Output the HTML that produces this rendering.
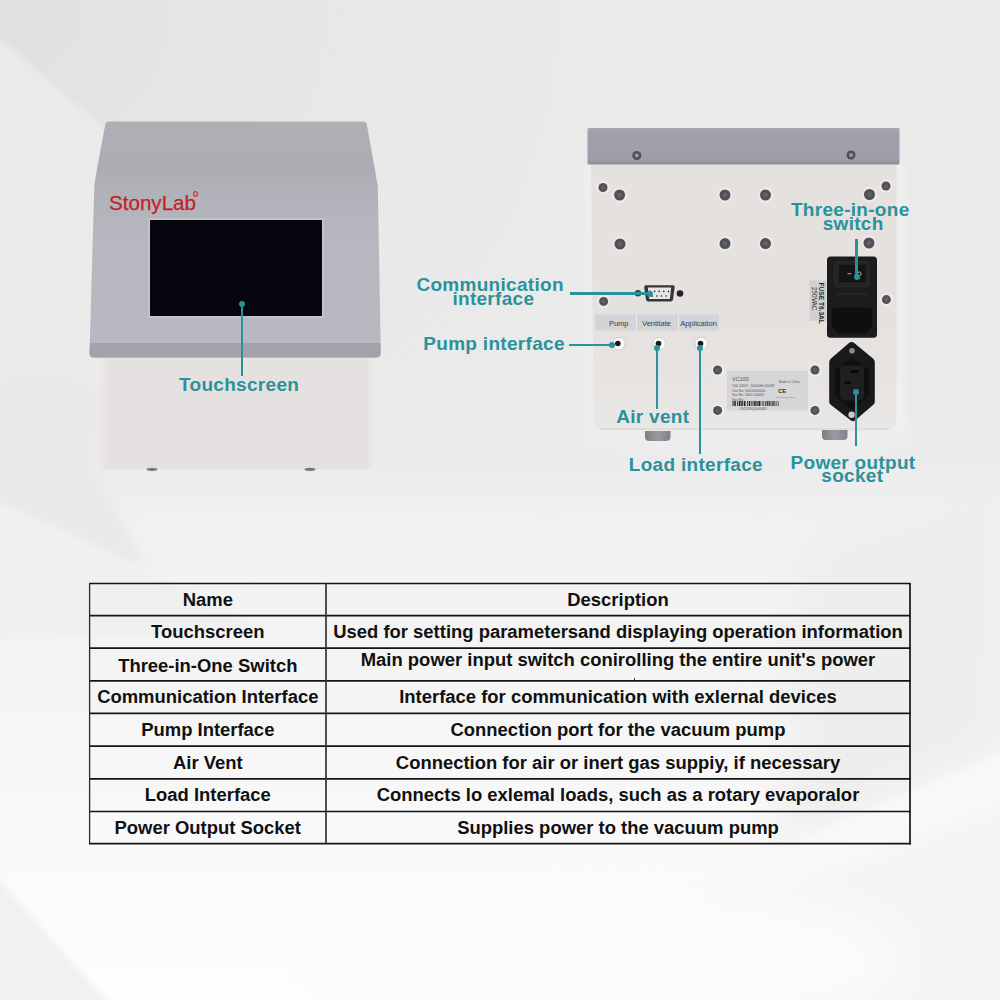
<!DOCTYPE html>
<html><head><meta charset="utf-8">
<style>
*{margin:0;padding:0;box-sizing:border-box}
html,body{width:1000px;height:1000px;overflow:hidden}
body{position:relative;font-family:"Liberation Sans",sans-serif;background:#ededed}
.abs{position:absolute}
#bg{position:absolute;left:0;top:0;width:1000px;height:1000px;
background:
 linear-gradient(135deg, rgba(0,0,0,0) 0%, rgba(0,0,0,0) 100%),
 #ececec}
.lbl{position:absolute;color:#2a929a;font-weight:700;font-size:19px;white-space:nowrap;line-height:14px;letter-spacing:0.3px}
.ln{position:absolute;background:#2a929a}
.dot{position:absolute;border-radius:50%;background:#2a929a}
.screw{position:absolute;border-radius:50%;background:#5d5e63;box-shadow:0 0 0 1px rgba(90,90,95,0.35)}
.tc{position:absolute;text-align:center;font-weight:700;font-size:18.45px;line-height:20px;height:20px;color:#111;white-space:nowrap}
</style></head><body>
<svg id="bgs" class="abs" style="left:0;top:0" width="1000" height="1000">
  <defs>
    <linearGradient id="bgv" x1="0" y1="0" x2="0" y2="1">
      <stop offset="0" stop-color="#eaeaea"/>
      <stop offset="0.46" stop-color="#ebebeb"/>
      <stop offset="0.53" stop-color="#f2f2f2"/>
      <stop offset="0.62" stop-color="#f3f3f3"/>
      <stop offset="0.7" stop-color="#f5f5f5"/>
      <stop offset="0.8" stop-color="#f8f8f8"/>
      <stop offset="0.94" stop-color="#fcfcfc"/>
      <stop offset="1" stop-color="#fdfdfd"/>
    </linearGradient>
    <filter id="blur8" x="-30%" y="-30%" width="160%" height="160%"><feGaussianBlur stdDeviation="8"/></filter>
    <filter id="blur20" x="-30%" y="-30%" width="160%" height="160%"><feGaussianBlur stdDeviation="20"/></filter>
    <filter id="blur3" x="-30%" y="-30%" width="160%" height="160%"><feGaussianBlur stdDeviation="2.5"/></filter>
  </defs>
  <rect x="0" y="0" width="1000" height="1000" fill="url(#bgv)"/>
  <!-- dark wedge top-left -->
  <defs><radialGradient id="wedge" cx="0" cy="0" r="760" gradientUnits="userSpaceOnUse">
    <stop offset="0" stop-color="#e0e0e0"/><stop offset="0.2" stop-color="#e4e4e4"/><stop offset="0.42" stop-color="#e7e7e7"/><stop offset="1" stop-color="#eaeaea" stop-opacity="0"/></radialGradient></defs>
  <path d="M-10 -10 L-10 30 L600 560 L1000 560 L1000 -10 Z" fill="url(#wedge)" filter="url(#blur3)"/>
  <!-- left darker band -->
  <path d="M-10 380 L92 380 L92 470 L150 572 L-10 498 Z" fill="#e8e8e8" filter="url(#blur8)"/>
  <path d="M-10 500 L150 574 L260 630 L-10 640 Z" fill="#f0f0f0" filter="url(#blur3)"/>
  <!-- right darker band -->
  <path d="M800 540 L1010 470 L1010 752 L780 850 Z" fill="#eeeeee" filter="url(#blur20)"/>
  <!-- lighter streak lower-left -->
  
  <!-- lower right light streak -->
  <path d="M380 1010 L780 850 L1010 752 L1010 1010 Z" fill="#f5f5f5" filter="url(#blur3)"/>
  <path d="M560 930 L780 850 L1010 752 L1010 800 L780 890 Z" fill="#f9f9f9" filter="url(#blur8)"/>
  <ellipse cx="600" cy="960" rx="300" ry="80" fill="#fbfbfb" filter="url(#blur20)"/>
  <path d="M-10 870 L115 1010 L-10 1010 Z" fill="#f1f1f1" filter="url(#blur3)"/>
</svg>


<!-- Front device -->
<svg class="abs" style="left:0;top:0" width="1000" height="500">
  <defs>
    <linearGradient id="fg" x1="0" y1="0" x2="0" y2="1">
      <stop offset="0" stop-color="#afafb5"/>
      <stop offset="0.2" stop-color="#acacb3"/>
      <stop offset="0.33" stop-color="#b2b2ba"/>
      <stop offset="0.5" stop-color="#b7b7bf"/>
      <stop offset="1" stop-color="#b8b8c0"/>
    </linearGradient>
    <linearGradient id="wb" x1="0" y1="0" x2="1" y2="0">
      <stop offset="0" stop-color="#efeeec"/>
      <stop offset="0.04" stop-color="#e5e1e0"/>
      <stop offset="0.96" stop-color="#e5e1e0"/>
      <stop offset="1" stop-color="#eeedeb"/>
    </linearGradient>
  </defs>
  <!-- white base -->
  <path d="M96 352 L377 352 L376 462 Q376 469 369 469 L105 469 Q98 469 98 462 Z" fill="url(#wb)"/>
  <ellipse cx="152" cy="469.3" rx="5.5" ry="1.6" fill="#77777b"/>
  <ellipse cx="310" cy="469.3" rx="5.5" ry="1.6" fill="#77777b"/>
  <!-- grey top -->
  <path d="M108.5 121.5 L363 121.5 Q366 121.5 366.8 124.5 C369 137, 374 163, 377.8 186 L380.8 353 Q380.8 357.5 376.3 357.5 L94 357.5 Q89.5 357.5 89.5 353 L94.3 186 C98 163, 103 137, 105.3 124.5 Q106 121.5 108.5 121.5 Z" fill="url(#fg)"/>
  <path d="M90 343 L380.5 343 L380.5 353 Q380.5 357.5 376 357.5 L94 357.5 Q89.5 357.5 89.5 353 Z" fill="#a2a2aa"/>
  <!-- screen -->
  <rect x="148.5" y="218.5" width="175" height="99" fill="#c6c6cc"/>
  <rect x="150" y="220" width="172" height="96" fill="#06070e"/>
</svg>
<div class="abs" style="left:109px;top:192px;color:#c41e24;font-size:20.6px;line-height:22px;-webkit-text-stroke:0.25px #c41e24">StonyLab</div>
<div class="abs" style="left:192.8px;top:191.3px;width:5.4px;height:5.4px;border-radius:50%;border:1.6px solid #c41e24;background:#d98a8c"></div>

<!-- Back device -->
<svg class="abs" style="left:0;top:0" width="1000" height="500">
  <defs>
    <linearGradient id="bar" x1="0" y1="0" x2="0" y2="1">
      <stop offset="0" stop-color="#a8a8b0"/>
      <stop offset="0.15" stop-color="#a1a1ab"/>
      <stop offset="0.88" stop-color="#9e9ea9"/>
      <stop offset="1" stop-color="#8b8b95"/>
    </linearGradient>
    <linearGradient id="ft" x1="0" y1="0" x2="1" y2="0">
      <stop offset="0" stop-color="#7d7e83"/>
      <stop offset="0.5" stop-color="#9a9ba0"/>
      <stop offset="1" stop-color="#818287"/>
    </linearGradient>
  </defs>
  <defs><linearGradient id="rs" x1="0" y1="0" x2="1" y2="0"><stop offset="0" stop-color="#f4f4f4"/><stop offset="1" stop-color="#f4f4f4" stop-opacity="0"/></linearGradient></defs><rect x="896" y="165" width="10" height="265" fill="url(#rs)"/>
  <rect x="584" y="164" width="9" height="262" fill="#eeeeee" filter="url(#blur3)"/>
  <rect x="590" y="429" width="320" height="18" fill="#efefef" filter="url(#blur8)"/>
  <rect x="893" y="165" width="12" height="270" fill="#efefef" filter="url(#blur3)"/>
  <defs><linearGradient id="pnl" x1="0" y1="0" x2="0" y2="1"><stop offset="0" stop-color="#e4e1df"/><stop offset="0.6" stop-color="#e4e1df"/><stop offset="1" stop-color="#e9e7e5"/></linearGradient></defs>
  <path d="M591 160 L896.5 160 L896.5 420 Q896.5 430 886.5 430 L603 430 Q594.5 430 594 421 Z" fill="url(#pnl)"/>
  <rect x="600" y="428.5" width="290" height="1.2" fill="#d9d7d6"/>
  <rect x="587.5" y="128" width="312" height="36.5" rx="1.5" fill="url(#bar)"/>
  <path d="M645 431 L670.5 431 L670.5 437 Q670.5 441 666 441 L649 441 Q645 441 645 437 Z" fill="url(#ft)"/>
  <path d="M822 430 L847.5 430 L847.5 436 Q847.5 440 843 440 L826 440 Q822 440 822 436 Z" fill="url(#ft)"/>
  <circle cx="636.8" cy="155.5" r="4.5" fill="#505056"/><circle cx="636.8" cy="155.5" r="2" fill="#9a9aa0"/>
  <circle cx="851" cy="155" r="4.5" fill="#505056"/><circle cx="851" cy="155" r="2" fill="#9a9aa0"/>
  <circle cx="619.6" cy="195" r="7.7" fill="#f4f3f1" opacity="0.55"/><circle cx="619.6" cy="195" r="5.5" fill="#505056"/><circle cx="619.6" cy="195" r="2.48" fill="#616166"/><circle cx="725" cy="195" r="7.7" fill="#f4f3f1" opacity="0.55"/><circle cx="725" cy="195" r="5.5" fill="#505056"/><circle cx="725" cy="195" r="2.48" fill="#616166"/><circle cx="765.5" cy="195" r="7.7" fill="#f4f3f1" opacity="0.55"/><circle cx="765.5" cy="195" r="5.5" fill="#505056"/><circle cx="765.5" cy="195" r="2.48" fill="#616166"/><circle cx="869.5" cy="194.5" r="7.7" fill="#f4f3f1" opacity="0.55"/><circle cx="869.5" cy="194.5" r="5.5" fill="#505056"/><circle cx="869.5" cy="194.5" r="2.48" fill="#616166"/><circle cx="620" cy="244" r="7.7" fill="#f4f3f1" opacity="0.55"/><circle cx="620" cy="244" r="5.5" fill="#505056"/><circle cx="620" cy="244" r="2.48" fill="#616166"/><circle cx="725" cy="243.6" r="7.7" fill="#f4f3f1" opacity="0.55"/><circle cx="725" cy="243.6" r="5.5" fill="#505056"/><circle cx="725" cy="243.6" r="2.48" fill="#616166"/><circle cx="765.5" cy="243.6" r="7.7" fill="#f4f3f1" opacity="0.55"/><circle cx="765.5" cy="243.6" r="5.5" fill="#505056"/><circle cx="765.5" cy="243.6" r="2.48" fill="#616166"/><circle cx="869" cy="243" r="7.7" fill="#f4f3f1" opacity="0.55"/><circle cx="869" cy="243" r="5.5" fill="#505056"/><circle cx="869" cy="243" r="2.48" fill="#616166"/><circle cx="603" cy="187.5" r="6.7" fill="#f4f3f1" opacity="0.55"/><circle cx="603" cy="187.5" r="4.5" fill="#505056"/><circle cx="603" cy="187.5" r="2.02" fill="#616166"/><circle cx="886" cy="186" r="6.7" fill="#f4f3f1" opacity="0.55"/><circle cx="886" cy="186" r="4.5" fill="#505056"/><circle cx="886" cy="186" r="2.02" fill="#616166"/><circle cx="603.6" cy="301.4" r="6.7" fill="#f4f3f1" opacity="0.55"/><circle cx="603.6" cy="301.4" r="4.5" fill="#505056"/><circle cx="603.6" cy="301.4" r="2.02" fill="#616166"/><circle cx="886.4" cy="299.6" r="6.7" fill="#f4f3f1" opacity="0.55"/><circle cx="886.4" cy="299.6" r="4.5" fill="#505056"/><circle cx="886.4" cy="299.6" r="2.02" fill="#616166"/><circle cx="717.6" cy="370" r="6.7" fill="#f4f3f1" opacity="0.55"/><circle cx="717.6" cy="370" r="4.5" fill="#505056"/><circle cx="717.6" cy="370" r="2.02" fill="#616166"/><circle cx="717.6" cy="410.4" r="6.7" fill="#f4f3f1" opacity="0.55"/><circle cx="717.6" cy="410.4" r="4.5" fill="#505056"/><circle cx="717.6" cy="410.4" r="2.02" fill="#616166"/><circle cx="815" cy="370" r="6.7" fill="#f4f3f1" opacity="0.55"/><circle cx="815" cy="370" r="4.5" fill="#505056"/><circle cx="815" cy="370" r="2.02" fill="#616166"/><circle cx="815" cy="410.4" r="6.7" fill="#f4f3f1" opacity="0.55"/><circle cx="815" cy="410.4" r="4.5" fill="#505056"/><circle cx="815" cy="410.4" r="2.02" fill="#616166"/>
  <!-- label strip -->
  <rect x="595.3" y="314.3" width="123.7" height="16.1" fill="#d3d4d8"/>
  <rect x="636" y="314.3" width="1" height="16.1" fill="#e9e9ec"/>
  <rect x="678" y="314.3" width="1" height="16.1" fill="#e9e9ec"/>
  <g font-family="Liberation Sans" font-size="7.5" fill="#3a3a3e" text-anchor="middle">
    <text x="618.7" y="325.5">Pump</text>
    <text x="656.5" y="325.5">Ventilate</text>
    <text x="698.5" y="325.5">Application</text>
  </g>
  <!-- DB9 -->
  <circle cx="638" cy="293.3" r="3.3" fill="#444"/>
  <circle cx="680" cy="293.5" r="3.3" fill="#222"/>
  <path d="M646 285.2 L673 285.2 Q675 285.2 674.7 287.3 L673 299.6 Q672.7 301.5 670.7 301.5 L648.3 301.5 Q646.3 301.5 646 299.6 L644.2 287.3 Q644 285.2 646 285.2 Z" fill="#36363a"/>
  <path d="M647.8 287.6 L671.2 287.6 L669.8 298.9 L649.2 298.9 Z" fill="#e6e6e6"/>
  <g fill="#222">
    <circle cx="650" cy="291.4" r="0.8"/><circle cx="654.6" cy="291.4" r="0.8"/><circle cx="659.2" cy="291.4" r="0.8"/><circle cx="663.8" cy="291.4" r="0.8"/><circle cx="668.4" cy="291.4" r="0.8"/>
    <circle cx="652.3" cy="296" r="0.8"/><circle cx="656.9" cy="296" r="0.8"/><circle cx="661.5" cy="296" r="0.8"/><circle cx="666.1" cy="296" r="0.8"/>
  </g>
  <!-- ports -->
  <g>
    <circle cx="618.7" cy="344.5" r="8.5" fill="#e4e3e1" opacity="0.7"/>
    <circle cx="618.7" cy="343.7" r="6.3" fill="#fbfbfb" stroke="#d0d0d0" stroke-width="1"/>
    <circle cx="617.8" cy="343.5" r="2.8" fill="#1a1a1a"/>
    <circle cx="659.3" cy="344.5" r="8.5" fill="#e4e3e1" opacity="0.7"/>
    <circle cx="659.3" cy="343.7" r="6.3" fill="#fbfbfb" stroke="#d0d0d0" stroke-width="1"/>
    <circle cx="658.5" cy="343.5" r="2.8" fill="#1a1a1a"/>
    <circle cx="701.3" cy="344.5" r="8.5" fill="#e4e3e1" opacity="0.7"/>
    <circle cx="701.3" cy="343.7" r="6.3" fill="#fbfbfb" stroke="#d0d0d0" stroke-width="1"/>
    <circle cx="700.5" cy="343.5" r="2.8" fill="#1a1a1a"/>
  </g>
  <!-- label plate -->
  <rect x="727" y="370.9" width="81" height="39.6" fill="#d6d6d9"/>
  <g font-family="Liberation Sans" fill="#55555a">
    <text x="732" y="381" font-size="5.5">VC100</text>
    <text x="732" y="386.5" font-size="3.6">100-240V~,50/60Hz,500W</text>
    <text x="732" y="391.5" font-size="3.6">Cat No: 6001000000</text>
    <text x="732" y="396.2" font-size="3.6">Var No: 0001 00000</text>
    <text x="732" y="400.5" font-size="3.6">Ser No:</text>
    <text x="740" y="409.5" font-size="3.2">XV25TKQ0000082</text>
    <text x="779" y="383" font-size="3.2">Made in China</text>
    <text x="778" y="392.5" font-size="6" font-weight="700" fill="#333">CE</text>
    <text x="776" y="397.5" font-size="2">xxxxxxxxxxxxxxxxxxx</text>
  </g>
  <rect x="732.0" y="401" width="0.5" height="5" fill="#222"/><rect x="733.5" y="401" width="1.2" height="5" fill="#222"/><rect x="735.2" y="401" width="0.8" height="5" fill="#222"/><rect x="737.0" y="401" width="0.8" height="5" fill="#222"/><rect x="738.8" y="401" width="1.2" height="5" fill="#222"/><rect x="740.5" y="401" width="1.2" height="5" fill="#222"/><rect x="742.2" y="401" width="0.8" height="5" fill="#222"/><rect x="743.8" y="401" width="1.2" height="5" fill="#222"/><rect x="745.5" y="401" width="0.5" height="5" fill="#222"/><rect x="747.0" y="401" width="0.8" height="5" fill="#222"/><rect x="748.8" y="401" width="1.2" height="5" fill="#222"/><rect x="750.8" y="401" width="0.8" height="5" fill="#222"/><rect x="752.6" y="401" width="0.5" height="5" fill="#222"/><rect x="753.6" y="401" width="1.2" height="5" fill="#222"/><rect x="755.3" y="401" width="1.2" height="5" fill="#222"/><rect x="757.3" y="401" width="1.2" height="5" fill="#222"/><rect x="759.0" y="401" width="1.2" height="5" fill="#222"/><rect x="760.7" y="401" width="0.5" height="5" fill="#222"/><rect x="762.2" y="401" width="0.5" height="5" fill="#222"/><rect x="763.5" y="401" width="0.5" height="5" fill="#222"/><rect x="764.8" y="401" width="0.8" height="5" fill="#222"/><rect x="766.6" y="401" width="1.2" height="5" fill="#222"/><rect x="768.6" y="401" width="1.2" height="5" fill="#222"/><rect x="770.6" y="401" width="0.8" height="5" fill="#222"/><rect x="772.4" y="401" width="1.2" height="5" fill="#222"/><rect x="774.4" y="401" width="0.5" height="5" fill="#222"/><rect x="775.7" y="401" width="0.5" height="5" fill="#222"/><rect x="776.7" y="401" width="0.5" height="5" fill="#222"/><rect x="778.0" y="401" width="0.5" height="5" fill="#222"/>
  <!-- fuse label -->
  <rect x="809.5" y="280.4" width="17.1" height="40.3" fill="#d0d0d2"/>
  <text transform="translate(818.5,282.5) rotate(90)" font-family="Liberation Sans" font-size="6.6" font-weight="700" fill="#2a2a2a">FUSE T6.3AL</text>
  <text transform="translate(812,287) rotate(90)" font-family="Liberation Sans" font-size="6.4" fill="#333">250VAC</text>
  <!-- switch module -->
  <rect x="827" y="256.6" width="50" height="81.2" rx="3.5" fill="#1c1c1f"/>
  <rect x="834.7" y="261.9" width="34.2" height="24.7" rx="1" fill="#232326" stroke="#2e2e31" stroke-width="1"/>
  <rect x="839" y="265" width="26.5" height="17.3" fill="#141416"/>
  <rect x="847.5" y="273.2" width="4" height="1" fill="#aaa"/>
  <circle cx="859.4" cy="273.7" r="1.8" fill="none" stroke="#bbb" stroke-width="0.9"/>
  <rect x="837" y="293" width="30" height="2" fill="#262629"/>
  <path d="M834.5 307.5 L869.5 307.5 Q872.2 307.5 872.2 310 L872.2 327 L866 333.6 L838 333.6 L831.8 327 L831.8 310 Q831.8 307.5 834.5 307.5 Z" fill="#0f0f11"/>
  <!-- power socket -->
  <path d="M849 343 Q851.6 341 854.2 343 L873 358.5 Q874.8 360 874.8 362.5 L874.8 401.5 Q874.8 403.5 873 405 L855 420.5 Q853 422 851 420.5 L831 405 Q829.2 403.5 829.2 401.5 L829.2 362.5 Q829.2 360 831 358.5 Z" fill="#19191b"/>
  <path d="M851.8 358 L869 370 L869 396 L852 410 L835 396 L835 370 Z" fill="#0f0f11"/>
  <path d="M843 365.4 L861 365.4 Q864 365.4 864 368.4 L864 395 Q864 400.5 858.5 400.5 L846 400.5 Q840.2 400.5 840.2 395 L840.2 368.4 Q840.2 365.4 843 365.4 Z" fill="#202023"/>
  <rect x="850.5" y="370" width="8" height="3" fill="#0a0a0b"/>
  <rect x="844.5" y="381" width="6" height="3" fill="#0a0a0b"/>
  <circle cx="852" cy="350.7" r="2.8" fill="#8b8b8f"/>
  <circle cx="851.6" cy="414.8" r="3.2" fill="#c9c9cb"/>
</svg>

<div class="abs" style="left:633.8px;top:677.5px;width:1.6px;height:2.5px;background:#333"></div>
<!-- Labels -->
<div class="dot" style="left:239.00px;top:300.60px;width:6px;height:6px"></div>
<div class="ln" style="left:240.90px;top:303.6px;width:2.2px;height:72.40px"></div>
<div class="lbl" style="left:179px;top:377.5px">Touchscreen</div>
<div class="lbl" style="left:416.4px;top:278px">Communication</div>
<div class="lbl" style="left:452.4px;top:292px">interface</div>
<div class="ln" style="left:569.5px;top:292.40px;width:80.50px;height:2.2px"></div>
<div class="dot" style="left:646.80px;top:290.50px;width:6px;height:6px"></div>
<div class="lbl" style="left:423.3px;top:337.2px">Pump interface</div>
<div class="ln" style="left:569.4px;top:343.50px;width:42.30px;height:2.2px"></div>
<div class="dot" style="left:608.70px;top:341.60px;width:6px;height:6px"></div>
<div class="dot" style="left:654.20px;top:345.00px;width:6px;height:6px"></div>
<div class="ln" style="left:656.10px;top:348px;width:2.2px;height:60.50px"></div>
<div class="lbl" style="left:616.2px;top:410px">Air vent</div>
<div class="dot" style="left:697.00px;top:345.00px;width:6px;height:6px"></div>
<div class="ln" style="left:698.90px;top:348px;width:2.2px;height:106.00px"></div>
<div class="lbl" style="left:628.8px;top:457.5px">Load interface</div>
<div class="lbl" style="left:790.9px;top:202.5px">Three-in-one</div>
<div class="lbl" style="left:822.7px;top:216.7px">switch</div>
<div class="ln" style="left:855.40px;top:239px;width:2.2px;height:37.60px"></div>
<div class="dot" style="left:853.50px;top:273.60px;width:6px;height:6px"></div>
<div class="dot" style="left:852.80px;top:388.50px;width:6px;height:6px"></div>
<div class="ln" style="left:854.70px;top:391.5px;width:2.2px;height:54.80px"></div>
<div class="lbl" style="left:790.5px;top:455.5px">Power output</div>
<div class="lbl" style="left:821.3px;top:469px">socket</div>

<!-- Table -->
<svg class="abs" style="left:0;top:0" width="1000" height="1000">
<line x1="89.0" y1="583.5" x2="910.9" y2="583.5" stroke="#141414" stroke-width="1.3"/>
<line x1="89.0" y1="615.6" x2="910.9" y2="615.6" stroke="#141414" stroke-width="1.7"/>
<line x1="89.0" y1="648.2" x2="910.9" y2="648.2" stroke="#141414" stroke-width="1.7"/>
<line x1="89.0" y1="680.9" x2="910.9" y2="680.9" stroke="#141414" stroke-width="1.7"/>
<line x1="89.0" y1="713.4" x2="910.9" y2="713.4" stroke="#141414" stroke-width="1.7"/>
<line x1="89.0" y1="746.2" x2="910.9" y2="746.2" stroke="#141414" stroke-width="1.7"/>
<line x1="89.0" y1="778.9" x2="910.9" y2="778.9" stroke="#141414" stroke-width="1.7"/>
<line x1="89.0" y1="811.5" x2="910.9" y2="811.5" stroke="#141414" stroke-width="1.7"/>
<line x1="89.0" y1="843.6" x2="910.9" y2="843.6" stroke="#141414" stroke-width="1.7"/>
<line x1="89.6" y1="583.5" x2="89.6" y2="843.6" stroke="#2a2a2a" stroke-width="1.3"/>
<line x1="326.0" y1="583.5" x2="326.0" y2="843.6" stroke="#333" stroke-width="1.7"/>
<line x1="910.0" y1="583.5" x2="910.0" y2="844.4" stroke="#141414" stroke-width="1.7"/>
</svg>
<div class="tc" style="left:89.6px;width:236.4px;top:589.55px">Name</div>
<div class="tc" style="left:326.0px;width:584.0px;top:589.55px">Description</div>
<div class="tc" style="left:89.6px;width:236.4px;top:621.90px">Touchscreen</div>
<div class="tc" style="left:326.0px;width:584.0px;top:621.90px">Used for setting parametersand displaying operation information</div>
<div class="tc" style="left:89.6px;width:236.4px;top:655.55px">Three-in-One Switch</div>
<div class="tc" style="left:326.0px;width:584.0px;top:650.05px">Main power input switch conirolling the entire unit's power</div>
<div class="tc" style="left:89.6px;width:236.4px;top:687.15px">Communication Interface</div>
<div class="tc" style="left:326.0px;width:584.0px;top:687.15px">Interface for communication with exlernal devices</div>
<div class="tc" style="left:89.6px;width:236.4px;top:719.80px">Pump Interface</div>
<div class="tc" style="left:326.0px;width:584.0px;top:719.80px">Connection port for the vacuum pump</div>
<div class="tc" style="left:89.6px;width:236.4px;top:752.55px">Air Vent</div>
<div class="tc" style="left:326.0px;width:584.0px;top:752.55px">Connection for air or inert gas suppiy, if necessary</div>
<div class="tc" style="left:89.6px;width:236.4px;top:785.20px">Load Interface</div>
<div class="tc" style="left:326.0px;width:584.0px;top:785.20px">Connects lo exlemal loads, such as a rotary evaporalor</div>
<div class="tc" style="left:89.6px;width:236.4px;top:817.55px">Power Output Socket</div>
<div class="tc" style="left:326.0px;width:584.0px;top:817.55px">Supplies power to the vacuum pump</div>

</body></html>
